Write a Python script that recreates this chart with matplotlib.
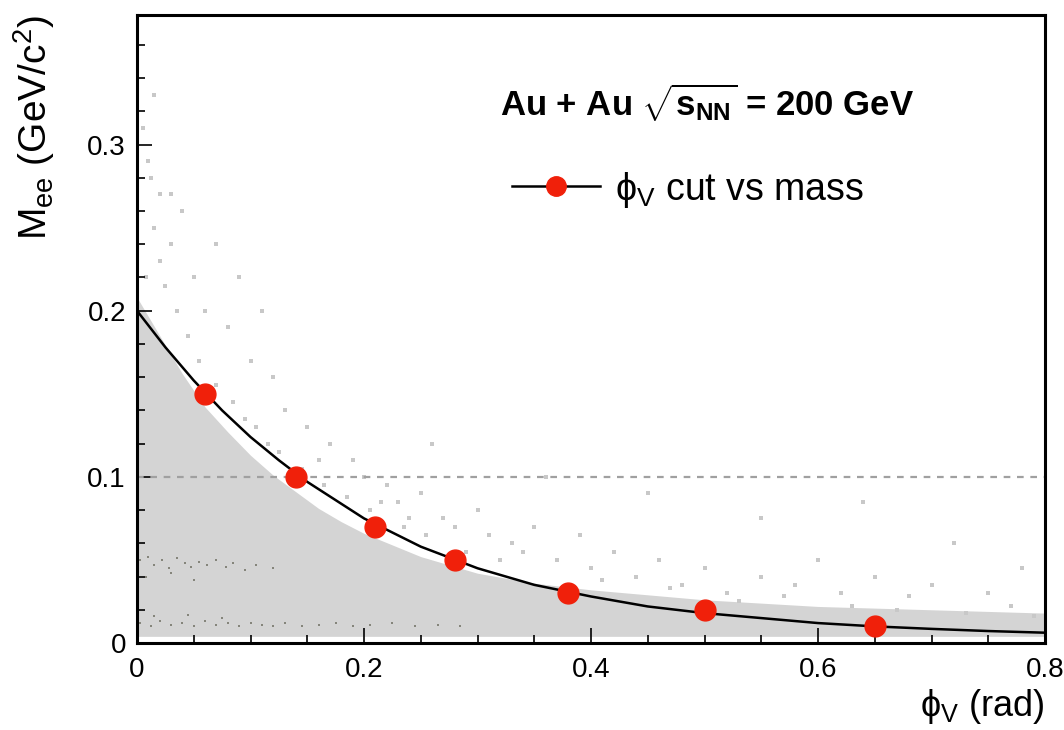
import matplotlib
matplotlib.use("Agg")
import matplotlib.pyplot as plt
from matplotlib.lines import Line2D
from matplotlib.ticker import MultipleLocator

plt.rcParams['font.family'] = ['Liberation Sans', 'DejaVu Sans']
plt.rcParams['mathtext.fontset'] = 'custom'
plt.rcParams['mathtext.rm'] = 'Liberation Sans'
plt.rcParams['mathtext.it'] = 'Liberation Sans:italic'
plt.rcParams['mathtext.bf'] = 'Liberation Sans:bold'

# --- data ---
cut_phiv = [0.06, 0.14, 0.21, 0.28, 0.38, 0.50, 0.65]
cut_mass = [0.15, 0.10, 0.07, 0.05, 0.03, 0.02, 0.01]

fit_x = [0.0, 0.025, 0.05, 0.075, 0.10, 0.125, 0.15, 0.175, 0.20, 0.25, 0.30,
         0.35, 0.40, 0.45, 0.50, 0.55, 0.60, 0.65, 0.70, 0.75, 0.80]
fit_y = [0.200, 0.178, 0.158, 0.140, 0.124, 0.110, 0.097, 0.086, 0.075, 0.058,
         0.045, 0.035, 0.028, 0.022, 0.018, 0.015, 0.012, 0.010, 0.0085, 0.0072, 0.0062]

# dense region of the 2D distribution (upper envelope)
band_x = [0.0, 0.02, 0.04, 0.06, 0.08, 0.10, 0.12, 0.14, 0.16, 0.18, 0.20, 0.25,
          0.30, 0.35, 0.40, 0.50, 0.60, 0.70, 0.80]
band_top = [0.208, 0.185, 0.162, 0.142, 0.127, 0.113, 0.101, 0.091, 0.081, 0.073,
            0.066, 0.052, 0.042, 0.036, 0.032, 0.026, 0.022, 0.020, 0.018]
band_bottom = 0.004

# sparse entries above the dense region
sparse_x = [0.01, 0.02, 0.015, 0.03, 0.05, 0.04, 0.02, 0.06, 0.08, 0.10, 0.09, 0.12,
            0.13, 0.15, 0.17, 0.16, 0.19, 0.20, 0.22, 0.23, 0.25, 0.24, 0.27, 0.28,
            0.30, 0.31, 0.33, 0.35, 0.34, 0.37, 0.39, 0.40, 0.42, 0.44, 0.46, 0.48,
            0.50, 0.52, 0.55, 0.58, 0.60, 0.62, 0.65, 0.68, 0.70, 0.72, 0.75, 0.78,
            0.26, 0.45, 0.55, 0.64, 0.36, 0.11, 0.07,
            0.005, 0.012, 0.008, 0.025, 0.035, 0.045, 0.015, 0.03, 0.055, 0.07, 0.085,
            0.095, 0.105, 0.115, 0.125, 0.145, 0.165, 0.185, 0.205, 0.215, 0.235, 0.255,
            0.29, 0.32, 0.41, 0.47, 0.53, 0.57, 0.63, 0.67, 0.73, 0.77, 0.79]
sparse_y = [0.29, 0.27, 0.25, 0.24, 0.22, 0.26, 0.23, 0.20, 0.19, 0.17, 0.22, 0.16,
            0.14, 0.13, 0.12, 0.11, 0.11, 0.10, 0.095, 0.085, 0.09, 0.075, 0.075, 0.07,
            0.08, 0.065, 0.06, 0.07, 0.055, 0.05, 0.065, 0.045, 0.055, 0.04, 0.05, 0.035,
            0.045, 0.03, 0.04, 0.035, 0.05, 0.03, 0.04, 0.028, 0.035, 0.06, 0.03, 0.045,
            0.12, 0.09, 0.075, 0.085, 0.10, 0.20, 0.24,
            0.31, 0.28, 0.22, 0.215, 0.20, 0.185, 0.33, 0.27, 0.17, 0.155, 0.145,
            0.135, 0.13, 0.12, 0.115, 0.105, 0.095, 0.088, 0.08, 0.085, 0.07, 0.065,
            0.055, 0.05, 0.038, 0.033, 0.025, 0.028, 0.022, 0.02, 0.018, 0.022, 0.016]

# darker entries in the low-phiV bands
dark_x = [0.003, 0.010, 0.015, 0.022, 0.028, 0.035, 0.042, 0.048, 0.055, 0.062,
          0.070, 0.078, 0.085, 0.095, 0.105, 0.120, 0.008, 0.030, 0.050,
          0.003, 0.012, 0.020, 0.030, 0.040, 0.050, 0.060, 0.070, 0.080, 0.090,
          0.100, 0.110, 0.120, 0.130, 0.145, 0.160, 0.175, 0.190, 0.205, 0.225,
          0.245, 0.265, 0.285, 0.015, 0.045, 0.075]
dark_y = [0.050, 0.052, 0.047, 0.050, 0.045, 0.051, 0.048, 0.046, 0.049, 0.047,
          0.050, 0.046, 0.048, 0.044, 0.047, 0.045, 0.040, 0.042, 0.038,
          0.012, 0.010, 0.013, 0.011, 0.012, 0.010, 0.013, 0.011, 0.012, 0.010,
          0.012, 0.011, 0.010, 0.012, 0.010, 0.011, 0.012, 0.010, 0.011, 0.012,
          0.010, 0.011, 0.010, 0.016, 0.017, 0.015]

x_ticks = [0, 0.2, 0.4, 0.6, 0.8]
x_tick_labels = ['0', '0.2', '0.4', '0.6', '0.8']
y_ticks = [0, 0.1, 0.2, 0.3]
y_tick_labels = ['0', '0.1', '0.2', '0.3']

fig = plt.figure(figsize=(10.64, 7.30), dpi=100)
ax = fig.add_axes([137/1064, 1 - 643/730, 908/1064, 628/730])

ax.fill_between(band_x, band_bottom, band_top, color='#d4d4d4', lw=0, zorder=1)
ax.scatter(sparse_x, sparse_y, s=5, marker='s', color='#c8c8c8', lw=0, zorder=1)
ax.scatter(dark_x, dark_y, s=4, marker='s', color='#85857b', lw=0, zorder=1)

ax.axhline(0.1, color='#a0a0a0', lw=1.6, ls=(0, (3, 3)), zorder=2)
ax.plot(fit_x, fit_y, color='black', lw=1.8, zorder=3)
ax.plot(cut_phiv, cut_mass, ls='none', marker='o', ms=15, color='#f0200a',
        mec='#f0200a', zorder=4)

ax.set_xlim(0, 0.8)
ax.set_ylim(0, 0.378)
ax.set_xticks(x_ticks)
ax.set_xticklabels(x_tick_labels)
ax.set_yticks(y_ticks)
ax.set_yticklabels(y_tick_labels)
ax.xaxis.set_minor_locator(MultipleLocator(0.05))
ax.yaxis.set_minor_locator(MultipleLocator(0.02))
ax.tick_params(which='both', direction='in', labelsize=20, width=1.2, colors='black')
ax.tick_params(which='major', length=11)
ax.tick_params(axis='x', which='major', pad=10)
ax.tick_params(axis='y', which='major', pad=8)
ax.tick_params(which='minor', length=6)
for s in ax.spines.values():
    s.set_linewidth(2.2)

ax.set_xlabel(r'ϕ$_{\rm V}$ (rad)', fontsize=26, loc='right', labelpad=3)
ax.set_ylabel(r'M$_{\rm ee}$ (GeV/c$^{2}$)', fontsize=28, loc='top', labelpad=22)

ax.text(0.40, 0.860, r'Au + Au $\mathbf{\sqrt{s_{NN}}}$ = 200 GeV', transform=ax.transAxes,
        fontsize=25, fontweight='bold', va='center', ha='left')

handle = Line2D([], [], color='black', lw=1.8, marker='o', ms=14,
                mfc='#f0200a', mec='#f0200a')
ax.legend([handle], [r'ϕ$_{\rm V}$ cut vs mass'], loc='center left',
          bbox_to_anchor=(0.413, 0.722), frameon=False, fontsize=27,
          handlelength=2.35, handletextpad=0.4, borderaxespad=0, borderpad=0)

fig.savefig('out.png', dpi=100)
